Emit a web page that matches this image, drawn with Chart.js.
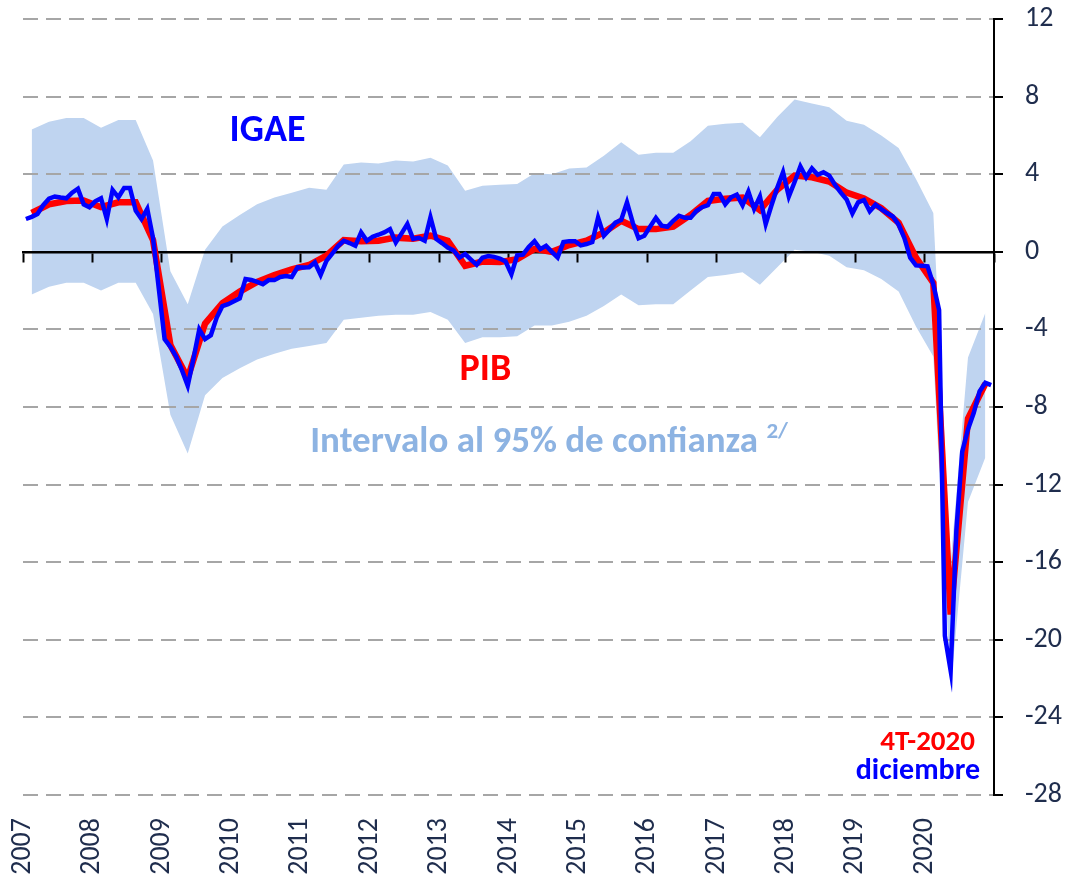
<!DOCTYPE html>
<html>
<head>
<meta charset="utf-8">
<script src="https://cdn.jsdelivr.net/npm/chart.js@4.4.1/dist/chart.umd.min.js"></script>
<style>
  html, body { margin: 0; padding: 0; background: #fff; }
</style>
</head>
<body>
<canvas id="chart" width="1071" height="882"></canvas>
<script>
// year labels on the bottom axis (one per January)
const YEAR_LABELS = ["2007", "2008", "2009", "2010", "2011", "2012", "2013",
  "2014", "2015", "2016", "2017", "2018", "2019", "2020"];

// IGAE, monthly annual change, Jan 2007 .. Dec 2020
const IGAE = [
  1.69, 1.8, 1.95, 2.4, 2.74, 2.85, 2.8, 2.76, 3.05, 3.25, 2.45, 2.3,
  2.6, 2.76, 1.69, 3.19, 2.81, 3.29, 3.29, 2.12, 1.69, 2.21, 0.7, -1.9,
  -4.5, -4.9, -5.4, -6.1, -6.9, -5.5, -4.0, -4.5, -4.3, -3.4, -2.8, -2.7,
  -2.55, -2.4, -1.4, -1.45, -1.55, -1.67, -1.46, -1.46, -1.3, -1.25, -1.3, -0.8,
  -0.81, -0.8, -0.55, -1.19, -0.47, -0.1, 0.3, 0.57, 0.45, 0.31, 1.0, 0.57,
  0.78, 0.88, 1.0, 1.17, 0.48, 0.95, 1.43, 0.66, 0.72, 0.57, 1.78, 0.66,
  0.45, 0.22, 0.07, -0.3, -0.12, -0.4, -0.67, -0.3, -0.22, -0.26, -0.35, -0.5,
  -1.15, -0.18, -0.15, 0.25, 0.55, 0.14, 0.31, 0.0, -0.29, 0.5, 0.55, 0.55,
  0.33, 0.4, 0.5, 1.76, 0.83, 1.15, 1.5, 1.64, 2.55, 1.5, 0.7, 0.83,
  1.3, 1.75, 1.35, 1.29, 1.6, 1.86, 1.75, 1.75, 2.1, 2.3, 2.4, 2.98,
  2.98, 2.45, 2.81, 2.95, 2.4, 3.1, 2.21, 2.85, 1.43, 2.4, 3.3, 4.1,
  2.85, 3.6, 4.4, 3.84, 4.3, 3.97, 4.1, 3.93, 3.45, 3.05, 2.7, 1.98,
  2.55, 2.67, 2.09, 2.43, 2.2, 2.0, 1.82, 1.4, 0.7, -0.3, -0.7, -0.72,
  -0.75, -1.68, -3.0, -19.8, -21.6, -14.3, -10.3, -9.15, -8.3, -7.2, -6.75, -6.87
];

// PIB, quarterly annual change, 1T-2007 .. 4T-2020
const PIB = [
  2.0, 2.45, 2.62, 2.64, 2.3, 2.55, 2.55, 0.6,
  -4.8, -6.5, -3.7, -2.65, -2.05, -1.55, -1.2, -0.9,
  -0.68, -0.2, 0.6, 0.55, 0.57, 0.73, 0.67, 0.83,
  0.57, -0.72, -0.5, -0.53, -0.38, 0.15, 0.0, 0.35,
  0.57, 1.0, 1.6, 1.17, 1.17, 1.3, 1.9, 2.62,
  2.73, 2.8, 2.15, 3.2, 3.93, 3.84, 3.62, 3.05,
  2.75, 2.25, 1.5, -0.3, -1.6, -18.7, -8.6, -6.8
];

// 95% confidence interval, quarterly
const BAND_HIGH = [
  6.3, 6.7, 6.9, 6.9, 6.4, 6.8, 6.8, 4.7,
  -1.0, -2.7, 0.1, 1.3, 1.9, 2.45, 2.8, 3.05,
  3.3, 3.2, 4.5, 4.6, 4.55, 4.7, 4.65, 4.85,
  4.45, 3.15, 3.4, 3.45, 3.5, 4.05, 4.0, 4.3,
  4.35, 4.95, 5.65, 5.0, 5.1, 5.1, 5.7, 6.5,
  6.6, 6.65, 5.9, 6.95, 7.85, 7.65, 7.45, 6.75,
  6.55, 6.0, 5.35, 3.75, 2.0, -16.0, -5.45, -3.15
];
const BAND_LOW = [
  -2.2, -1.8, -1.6, -1.6, -2.0, -1.6, -1.6, -3.2,
  -8.4, -10.4, -7.4, -6.5, -6.0, -5.55, -5.25, -5.0,
  -4.85, -4.7, -3.5, -3.4, -3.3, -3.25, -3.25, -3.1,
  -3.5, -4.7, -4.4, -4.4, -4.35, -3.8, -3.8, -3.6,
  -3.3, -2.8, -2.2, -2.75, -2.7, -2.7, -2.0, -1.3,
  -1.2, -1.05, -1.7, -0.8, 0.1, 0.0, -0.2, -0.8,
  -0.95, -1.4, -2.05, -3.85, -5.4, -22.5, -12.9, -10.6
];

const FONT = 'Carlito, "Open Sans", sans-serif';
const NAVY = "#1f2d4d";

// x is measured in months from Jan 2007; monthly points sit mid-month,
// quarterly points mid-quarter
const monthly = (arr) => arr.map((v, i) => ({ x: i + 0.5, y: v }));
const quarterly = (arr) => arr.map((v, i) => ({ x: i * 3 + 1.5, y: v }));

const NOTES = [
  { text: "IGAE", x: 42.3, y: 6.2, color: "#0000ff", size: 38, align: "center" },
  { text: "PIB", x: 80, y: -6.1, color: "#ff0000", size: 38, align: "center" },
  { text: "Intervalo al 95% de confianza", sup: "2/", x: 49.7, y: -9.85,
    color: "#8db3e2", size: 37, align: "left" },
  { text: "4T-2020", x: 164.7, y: -25.3, color: "#ff0000", size: 29, align: "right" },
  { text: "diciembre", x: 165.6, y: -26.8, color: "#0000ff", size: 30, align: "right" },
];

const notesPlugin = {
  id: "notes",
  afterDatasetsDraw(chart) {
    const { ctx, scales } = chart;
    ctx.save();
    ctx.textBaseline = "middle";
    for (const n of NOTES) {
      const px = scales.x.getPixelForValue(n.x);
      const py = scales.y.getPixelForValue(n.y);
      ctx.font = `bold ${n.size}px ${FONT}`;
      ctx.fillStyle = n.color;
      ctx.textAlign = n.align;
      ctx.fillText(n.text, px, py);
      if (n.sup) {
        const w = ctx.measureText(n.text + " ").width;
        ctx.font = `bold ${Math.round(n.size * 0.62)}px ${FONT}`;
        ctx.textAlign = "left";
        ctx.fillText(n.sup, px + w, py - n.size * 0.3);
      }
    }
    ctx.restore();
  },
};

new Chart(document.getElementById("chart"), {
  type: "line",
  data: {
    datasets: [
      {
        label: "IGAE",
        data: monthly(IGAE),
        borderColor: "#0000ff",
        borderWidth: 4.5,
        pointRadius: 0,
        tension: 0,
        fill: false,
      },
      {
        label: "PIB",
        data: quarterly(PIB),
        borderColor: "#ff0000",
        borderWidth: 6.5,
        pointRadius: 0,
        tension: 0,
        fill: false,
      },
      {
        label: "Intervalo al 95% de confianza",
        data: quarterly(BAND_HIGH),
        borderWidth: 0,
        borderColor: "rgba(0,0,0,0)",
        backgroundColor: "#bfd4f0",
        pointRadius: 0,
        tension: 0,
        fill: "+1",
      },
      {
        label: "low",
        data: quarterly(BAND_LOW),
        borderWidth: 0,
        borderColor: "rgba(0,0,0,0)",
        pointRadius: 0,
        tension: 0,
        fill: false,
      },
    ],
  },
  options: {
    responsive: false,
    animation: false,
    layout: { padding: { top: 0, left: 20, right: 0, bottom: 0 } },
    plugins: {
      legend: { display: false },
      tooltip: { enabled: false },
      // band goes under the grid and the zero line, as in the original
      filler: { drawTime: "beforeDraw" },
    },
    scales: {
      x: {
        type: "linear",
        position: "bottom",
        min: 0,
        max: 168,
        afterBuildTicks: (s) => { s.ticks = YEAR_LABELS.map((_, i) => ({ value: i * 12 })); },
        afterFit: (s) => { s.height = 87; },
        ticks: {
          autoSkip: false,
          minRotation: 90,
          maxRotation: 90,
          padding: 23,
          color: NAVY,
          font: { family: FONT, size: 28 },
          callback: (v, i) => YEAR_LABELS[i],
        },
        grid: { display: false, drawTicks: false },
        border: { display: false },
      },
      // zero line with the year tick marks
      x2: {
        type: "linear",
        position: { y: 0 },
        min: 0,
        max: 168,
        afterBuildTicks: (s) => {
          s.ticks = YEAR_LABELS.concat([""]).map((_, i) => ({ value: i * 12 }));
        },
        ticks: { display: false },
        grid: { drawOnChartArea: false, drawTicks: true, tickLength: 9,
                tickColor: "#000", tickWidth: 2 },
        border: { color: "#000", width: 2.5 },
      },
      y: {
        position: "right",
        min: -28,
        max: 12,
        afterFit: (s) => { s.width = 77; s.paddingTop = 19; },
        ticks: {
          stepSize: 4,
          padding: 22,
          color: NAVY,
          font: { family: FONT, size: 28 },
        },
        grid: {
          color: (c) => (c.tick && c.tick.value === 0 ? "rgba(0,0,0,0)" : "#a6a6a6"),
          lineWidth: 2,
          drawTicks: true,
          tickLength: 9,
          tickColor: "#000",
          tickWidth: 2,
          tickBorderDash: [],
        },
        border: { color: "#000", width: 2, dash: [15, 8] },
      },
    },
  },
  plugins: [notesPlugin],
});
</script>
</body>
</html>
